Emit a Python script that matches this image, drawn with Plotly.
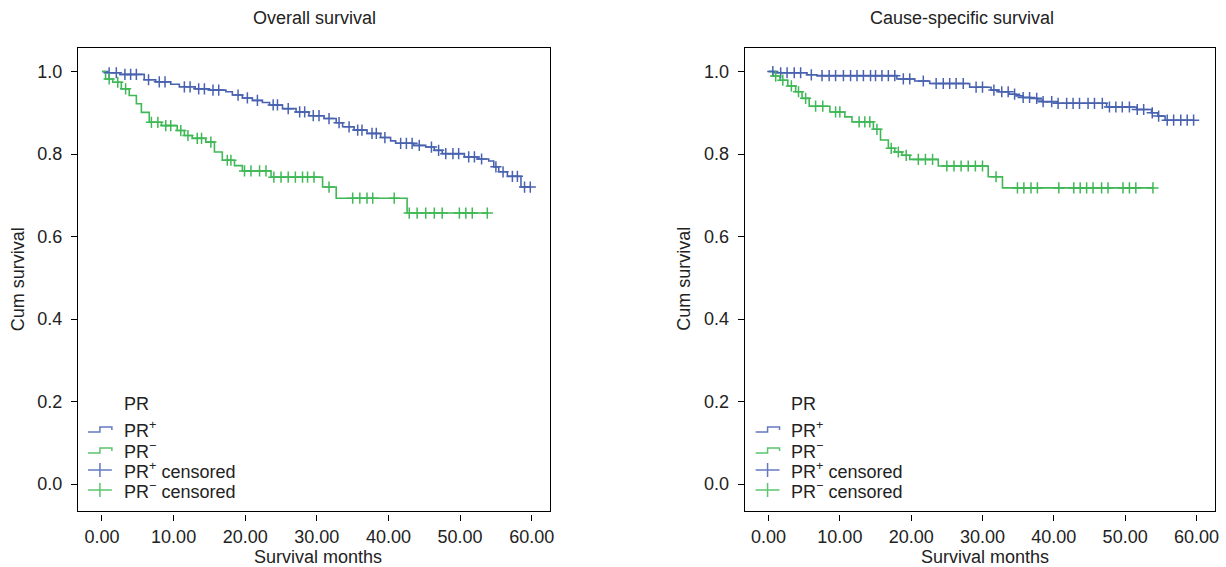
import numpy as np
import plotly.graph_objects as go

# ---------------- data ----------------
# Overall survival, PR+
os_pos_times = [0.8, 2.5, 5.9, 7.5, 9.6, 10.8, 13.0, 15.0, 17.3, 18.2, 19.6, 21.0, 22.4, 23.4,
                25.2, 27.1, 28.9, 31.0, 32.7, 33.6, 35.2, 37.0, 38.9, 40.3, 41.0, 43.5, 45.2,
                46.4, 47.5, 50.6, 52.5, 54.0, 54.7, 55.4, 56.6, 58.5]
os_pos_surv = [0.997, 0.993, 0.980, 0.975, 0.969, 0.963, 0.958, 0.955, 0.951, 0.943, 0.936,
               0.930, 0.925, 0.919, 0.910, 0.902, 0.893, 0.886, 0.876, 0.866, 0.858, 0.850,
               0.840, 0.832, 0.826, 0.821, 0.817, 0.809, 0.801, 0.793, 0.788, 0.783, 0.769,
               0.757, 0.746, 0.720]
os_pos_cens = [1.0, 2.0, 3.2, 4.0, 4.8, 6.5, 8.0, 8.8, 11.5, 12.3, 13.5, 14.3, 15.5, 16.3,
               19.0, 20.3, 21.7, 23.9, 24.5, 26.0, 27.6, 28.3, 29.5, 30.3, 31.7, 33.1, 34.5,
               35.7, 36.3, 37.7, 38.3, 39.5, 41.7, 42.5, 43.3, 44.3, 46.0, 47.0, 48.0, 49.0,
               49.8, 51.2, 52.0, 53.0, 55.0, 56.0, 57.3, 58.0, 59.0, 59.8]

# Overall survival, PR-
os_neg_times = [0.5, 1.5, 2.7, 3.8, 4.8, 5.5, 6.6, 8.3, 10.5, 11.5, 12.6, 14.5, 15.7, 16.8,
                18.5, 19.6, 23.6, 30.8, 32.7, 42.6]
os_neg_surv = [0.982, 0.974, 0.958, 0.942, 0.922, 0.901, 0.877, 0.869, 0.857, 0.845, 0.838,
               0.829, 0.805, 0.785, 0.772, 0.759, 0.744, 0.720, 0.693, 0.657]
os_neg_cens = [1.0, 2.2, 3.3, 6.9, 7.8, 8.9, 9.6, 11.0, 12.0, 13.3, 13.9, 15.2, 17.5, 18.0,
               19.9, 20.8, 22.0, 22.9, 24.0, 25.0, 26.0, 27.0, 28.0, 28.7, 29.6, 31.7, 35.0,
               36.0, 37.0, 37.8, 40.8, 42.9, 44.0, 45.2, 46.4, 47.5, 49.9, 50.8, 51.7, 53.8]

# Cause-specific survival, PR+
css_pos_times = [0.8, 5.4, 6.8, 18.0, 20.5, 22.6, 28.2, 31.2, 32.3, 33.7, 34.7, 35.7, 36.8,
                 37.7, 38.4, 40.5, 47.4, 51.6, 53.7, 54.6, 55.6]
css_pos_surv = [0.997, 0.992, 0.990, 0.982, 0.977, 0.971, 0.962, 0.955, 0.951, 0.945, 0.941,
                0.937, 0.935, 0.931, 0.927, 0.923, 0.914, 0.908, 0.900, 0.892, 0.882]
css_pos_cens = [0.6, 1.7, 2.6, 3.6, 4.5, 6.0, 7.5, 8.5, 9.4, 10.5, 11.5, 12.4, 13.3, 14.3,
                15.0, 15.9, 16.8, 17.7, 18.9, 19.8, 21.7, 23.5, 24.5, 25.4, 26.3, 27.3, 29.1,
                30.0, 31.6, 32.7, 33.6, 34.5, 35.7, 36.6, 37.6, 38.5, 39.7, 40.6, 41.8, 42.7,
                43.6, 44.8, 45.7, 46.8, 47.8, 48.7, 49.6, 50.6, 51.7, 52.6, 53.8, 54.7, 55.9,
                56.8, 57.8, 58.7, 59.6]

# Cause-specific survival, PR-
css_neg_times = [0.6, 1.6, 2.7, 3.8, 4.7, 5.7, 8.6, 10.7, 11.7, 14.7, 15.7, 16.8, 17.7, 18.7,
                 19.8, 23.8, 30.8, 32.8]
css_neg_surv = [0.989, 0.979, 0.965, 0.951, 0.935, 0.916, 0.902, 0.890, 0.878, 0.860, 0.834,
                0.814, 0.805, 0.797, 0.787, 0.771, 0.745, 0.718]
css_neg_cens = [1.0, 2.0, 3.2, 4.2, 5.2, 6.6, 7.6, 9.4, 10.0, 12.7, 13.5, 14.2, 15.2, 17.2,
                18.2, 19.3, 21.0, 22.0, 23.0, 25.0, 26.0, 27.0, 28.0, 29.0, 30.0, 31.9, 34.9,
                35.8, 36.8, 37.7, 40.7, 42.8, 43.7, 44.6, 45.5, 46.7, 47.6, 49.7, 50.6, 51.5,
                53.9]

panel_titles = ["Overall survival", "Cause-specific survival"]
x_title = "Survival months"
y_title = "Cum survival"
legend_title = "PR"
group_names = ["PR<sup>+</sup>", "PR<sup>\u2212</sup>"]
x_ticks = [0, 10, 20, 30, 40, 50, 60]
y_ticks = [0.0, 0.2, 0.4, 0.6, 0.8, 1.0]

# ---------------- style ----------------
BLUE = "#4862b0"
GREEN = "#3fb856"
BLUE_L = "#6479c2"
GREEN_L = "#5cc46f"
FONT = "Liberation Sans, Arial, sans-serif"
TXT = "#222222"
FS = 18

W, H = 1226, 567
ML, MR, MT, MB = 78, 7, 48, 53
PW = W - ML - MR
PH = H - MT - MB
FRAME_BOTTOM = 511  # px, x ticks hang below with a small gap


def px_x(p):
    return (p - ML) / PW


def px_y(p):
    return (H - MB - p) / PH


def step_xy(times, surv, cens):
    end = max(max(cens), max(times))
    return [0.0] + list(times) + [end], [1.0] + list(surv) + [surv[-1]]


def cens_y(times, surv, cens):
    t = np.asarray(times)
    s = np.asarray(surv)
    idx = np.searchsorted(t, np.asarray(cens), side="right")
    return np.where(idx == 0, 1.0, s[np.maximum(idx - 1, 0)])


fig = go.Figure()

panels = [
    ("x", "y", "x3", [(os_pos_times, os_pos_surv, os_pos_cens, BLUE),
                      (os_neg_times, os_neg_surv, os_neg_cens, GREEN)]),
    ("x2", "y2", "x4", [(css_pos_times, css_pos_surv, css_pos_cens, BLUE),
                        (css_neg_times, css_neg_surv, css_neg_cens, GREEN)]),
]

for xa, ya, xt, groups in panels:
    for (t, s, c, col), name in zip(groups, group_names):
        lx, ly = step_xy(t, s, c)
        fig.add_trace(go.Scatter(x=lx, y=ly, mode="lines", line=dict(color=col, width=1.6, shape="hv"),
                                 name=name, xaxis=xa, yaxis=ya, showlegend=False, hoverinfo="skip"))
    for (t, s, c, col), name in zip(groups, group_names):
        fig.add_trace(go.Scatter(x=c, y=cens_y(t, s, c), mode="markers",
                                 marker=dict(symbol="cross-thin", size=8, line=dict(color=col, width=1.5), color=col),
                                 name=name + " censored", xaxis=xa, yaxis=ya, showlegend=False,
                                 hoverinfo="skip"))
    # empty carrier trace so the detached tick axis gets drawn
    fig.add_trace(go.Scatter(x=[x_ticks[0], x_ticks[-1]], y=[None, None], mode="markers", xaxis=xt, yaxis=ya,
                             showlegend=False, hoverinfo="skip", marker=dict(opacity=0)))

frame = dict(showline=True, linecolor="black", linewidth=1.2, mirror=True, showgrid=False, zeroline=False)
tickstyle = dict(ticks="outside", ticklen=6, tickcolor="black", tickwidth=1,
                 tickfont=dict(size=FS, color=TXT, family=FONT))

xd1 = [0, px_x(552)]
xd2 = [px_x(747), 1]
xr = [-3.35, 62.6]
yr = [-0.065, 1.057]
yd = [px_y(FRAME_BOTTOM), 1]

fig.update_layout(
    width=W, height=H, margin=dict(l=ML, r=MR, t=MT, b=MB),
    paper_bgcolor="white", plot_bgcolor="white",
    font=dict(family=FONT, size=FS, color=TXT),
    showlegend=False,
    xaxis=dict(domain=xd1, range=xr, anchor="y", showticklabels=False, ticks="", **frame),
    yaxis=dict(domain=yd, range=yr, tickvals=y_ticks, tickformat=".1f", anchor="x",
               ticklabelstandoff=5, **frame, **tickstyle),
    xaxis2=dict(domain=xd2, range=xr, anchor="y2", showticklabels=False, ticks="", **frame),
    yaxis2=dict(domain=yd, range=yr, tickvals=y_ticks, tickformat=".1f", anchor="x2",
                ticklabelstandoff=5, **frame, **tickstyle),
    xaxis3=dict(domain=xd1, range=xr, overlaying="x", anchor="free", position=0, showline=False,
                showgrid=False, zeroline=False, tickvals=x_ticks, tickformat=".2f", **tickstyle),
    xaxis4=dict(domain=xd2, range=xr, overlaying="x2", anchor="free", position=0, showline=False,
                showgrid=False, zeroline=False, tickvals=x_ticks, tickformat=".2f", **tickstyle),
)

ann = []
shapes = []
for cx, title in zip([315, 965], panel_titles):
    ann.append(dict(text=title, x=px_x(cx), y=px_y(18), xref="paper", yref="paper",
                    xanchor="center", yanchor="middle", showarrow=False, font=dict(size=FS, color=TXT)))
for cx in [319, 988]:
    ann.append(dict(text=x_title, x=px_x(cx), y=px_y(557), xref="paper", yref="paper",
                    xanchor="center", yanchor="middle", showarrow=False, font=dict(size=FS, color=TXT)))
for cx in [18, 686]:
    ann.append(dict(text=y_title, x=px_x(cx), y=px_y(279), xref="paper", yref="paper", textangle=-90,
                    xanchor="center", yanchor="middle", showarrow=False, font=dict(size=FS, color=TXT)))


def P(x, y):
    return f"{px_x(x):.5f},{px_y(y):.5f}"


# hand-made legends (SPSS style: step icons and cross icons)
legend_rows = [429, 450, 470, 490]
for x0 in [88, 758]:
    ann.append(dict(text=legend_title, x=px_x(x0 + 34), y=px_y(404), xref="paper", yref="paper",
                    xanchor="left", yanchor="middle", showarrow=False, font=dict(size=FS, color=TXT)))
    labels = group_names + [g + " censored" for g in group_names]
    cols = [BLUE_L, GREEN_L, BLUE_L, GREEN_L]
    for i, (lab, col, yy) in enumerate(zip(labels, cols, legend_rows)):
        ann.append(dict(text=lab, x=px_x(x0 + 34), y=px_y(yy), xref="paper", yref="paper",
                        xanchor="left", yanchor="middle", showarrow=False, font=dict(size=FS, color=TXT)))
        if i < 2:
            path = (f"M{P(x0, yy + 3)} L{P(x0 + 12, yy + 3)} L{P(x0 + 12, yy - 2)} "
                    f"L{P(x0 + 24, yy - 2)} L{P(x0 + 24, yy + 1)}")
            shapes.append(dict(type="path", path=path, xref="paper", yref="paper",
                               line=dict(color=col, width=1.5)))
        else:
            shapes.append(dict(type="line", x0=px_x(x0), x1=px_x(x0 + 24), y0=px_y(yy), y1=px_y(yy),
                               xref="paper", yref="paper", line=dict(color=col, width=1.5)))
            shapes.append(dict(type="line", x0=px_x(x0 + 12), x1=px_x(x0 + 12), y0=px_y(yy - 7),
                               y1=px_y(yy + 7), xref="paper", yref="paper", line=dict(color=col, width=1.5)))

fig.update_layout(annotations=ann, shapes=shapes)

fig.write_html("out.html", config={"displayModeBar": False},
               post_script="document.body.style.margin='0px';")
